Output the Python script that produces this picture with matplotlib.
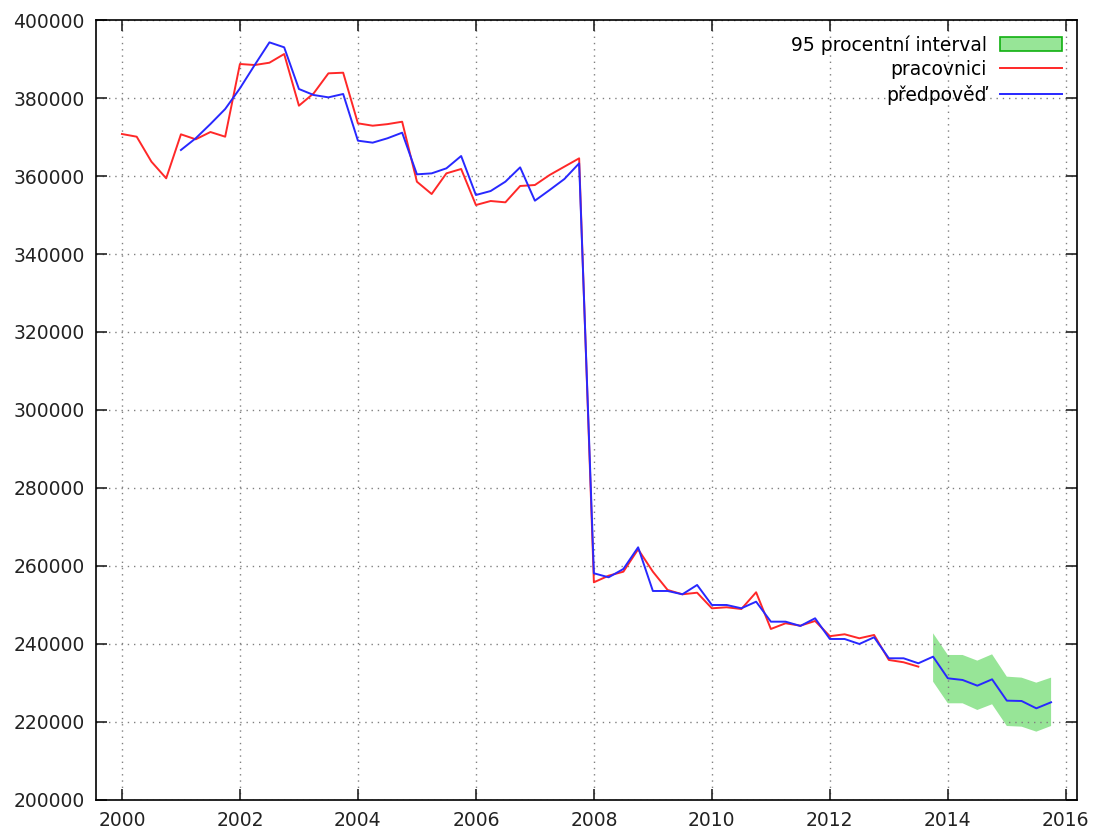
import matplotlib.pyplot as plt
from matplotlib.patches import Patch
from matplotlib.lines import Line2D
import numpy as np

# quarterly observations (pracovnici), starting 2000 Q1
workers = [370770, 370080, 363670, 359410,
           370690, 369410, 371280, 370080,
           388720, 388460, 389050, 391280,
           378030, 381200, 386330, 386490,
           373510, 372900, 373300, 373920,
           358540, 355380, 360680, 361800,
           352560, 353590, 353250, 357440,
           357690, 360260, 362400, 364530,
           255820, 257510, 258540, 264280,
           258540, 253850, 252740, 253150,
           249150, 249410, 248970, 253260,
           243850, 245310, 244690, 245900,
           242000, 242490, 241460, 242310,
           235900, 235310, 234190]
workers_start = 2000.0

# model forecast (predpoved), starting 2001 Q1
forecast = [366670, 369670, 373330, 377180,
            382480, 388460, 394270, 393000,
            382310, 380770, 380170, 381030,
            369060, 368550, 369670, 371110,
            360430, 360680, 361970, 365130,
            355130, 356150, 358550, 362220,
            353670, 356410, 359230, 363250,
            258130, 257100, 259230, 264790,
            253590, 253590, 252740, 255130,
            250000, 250000, 249150, 250850,
            245720, 245720, 244620, 246590,
            241280, 241280, 240000, 241720,
            236330, 236330, 235050, 236750,
            231200, 230770, 229310, 230940,
            225470, 225380, 223500, 225050]
forecast_start = 2001.0

# 95 % interval, starting 2013 Q4
band_start = 2013.75
band_upper = [242740, 237180, 237180, 235730, 237350, 231620, 231370, 230080, 231370]
band_lower = [230340, 224790, 224790, 223080, 224540, 218970, 218800, 217520, 218970]

t_workers = workers_start + 0.25 * np.arange(len(workers))
t_forecast = forecast_start + 0.25 * np.arange(len(forecast))
t_band = band_start + 0.25 * np.arange(len(band_upper))

red = '#ff2828'
blue = '#2828ff'
green_fill = '#97e597'

fig = plt.figure(figsize=(10.97, 8.34), dpi=100)
ax = fig.add_axes([0.0875, 0.0408, 0.8943, 0.9352])

ax.fill_between(t_band, band_lower, band_upper, facecolor=green_fill, edgecolor='none')
ax.plot(t_workers, workers, color=red, lw=1.4)
ax.plot(t_forecast, forecast, color=blue, lw=1.4)

ax.set_xlim(1999.56, 2016.19)
ax.set_ylim(200000, 400000)
ax.set_xticks(np.arange(2000, 2017, 2))
ax.set_yticks(np.arange(200000, 400001, 20000))

ax.grid(True, color='#808080', linestyle=(0, (1, 3.5)), linewidth=1.0)
ax.tick_params(direction='in', length=8, width=1.2, top=True, right=True,
               labelsize=13.5, pad=8, colors='#222222')
for s in ax.spines.values():
    s.set_linewidth(1.2)

handles = [Patch(facecolor=green_fill, edgecolor='#10b010', linewidth=1.2),
           Line2D([], [], color=red, lw=1.4),
           Line2D([], [], color=blue, lw=1.4)]
labels = ['95 procentní interval', 'pracovnici', 'předpověď']
ax.legend(handles, labels, loc='upper right', frameon=False, markerfirst=False,
          fontsize=13.5, handlelength=3.3, handleheight=0.8, labelspacing=0.3,
          borderaxespad=0.6, borderpad=0.2, handletextpad=0.7)

plt.savefig('out.png', dpi=100)
